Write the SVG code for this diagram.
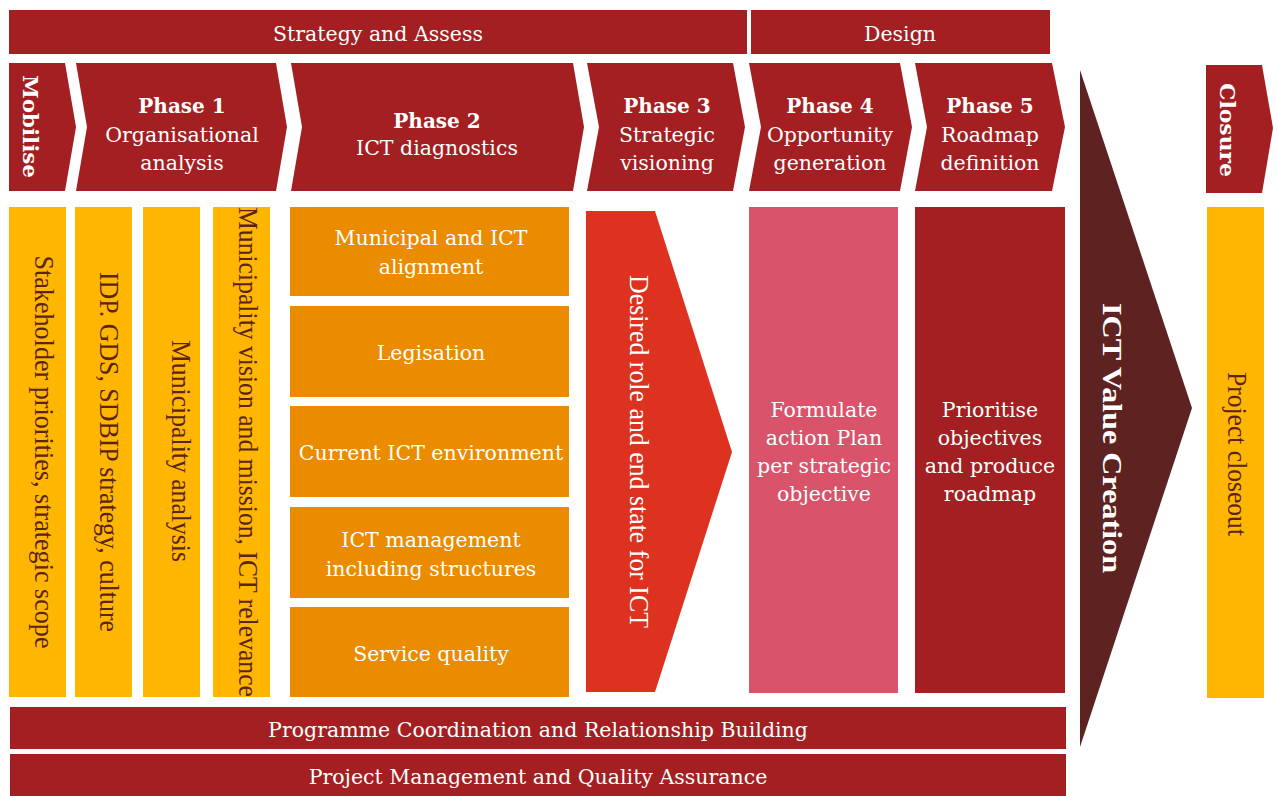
<svg xmlns="http://www.w3.org/2000/svg" width="1278" height="796" viewBox="0 0 1278 796">
<style>
.dr{fill:#a31f21}
.yl{fill:#ffb600}
.or{fill:#eb8c00}
.rd{fill:#dc321f}
.ro{fill:#d9536b}
.bg{fill:#5e2320}
.t{font-family:"DejaVu Serif","Liberation Serif",serif;font-size:20.5px;fill:#fff;text-anchor:middle}
.b{font-weight:bold;font-size:20px}
.v{font-family:"Liberation Serif",serif;font-size:27px;text-anchor:middle}
.vd{fill:#5a2418}
.vw{fill:#fff}
</style>
<rect width="1278" height="796" fill="#fff"/>

<g id="bar-strategy">
<rect class="dr" x="9" y="10" width="738" height="44"/>
<text class="t" x="378" y="41" font-size="20">Strategy and Assess</text>
</g>
<g id="bar-design">
<rect class="dr" x="751" y="10" width="299" height="44"/>
<text class="t" x="900" y="41" font-size="20">Design</text>
</g>

<g id="chev-mobilise">
<polygon class="dr" points="9,63 65,63 76,127 65,191 9,191"/>
<text class="t b" transform="translate(23,126.5) rotate(90)" x="0" y="0" textLength="103" lengthAdjust="spacingAndGlyphs">Mobilise</text>
</g>
<g id="chev-phase1">
<polygon class="dr" points="76,63 276,63 287,127 276,191 76,191 87,127"/>
<text class="t b" x="182" y="113">Phase 1</text>
<text class="t" x="182" y="142">Organisational</text>
<text class="t" x="182" y="170">analysis</text>
</g>
<g id="chev-phase2">
<polygon class="dr" points="291,63 573,63 584,127 573,191 291,191 302,127"/>
<text class="t b" x="437" y="128">Phase 2</text>
<text class="t" x="437" y="155">ICT diagnostics</text>
</g>
<g id="chev-phase3">
<polygon class="dr" points="587,63 733,63 745,127 733,191 587,191 599,127"/>
<text class="t b" x="667" y="113">Phase 3</text>
<text class="t" x="667" y="142">Strategic</text>
<text class="t" x="667" y="170">visioning</text>
</g>
<g id="chev-phase4">
<polygon class="dr" points="749,63 900,63 912,127 900,191 749,191 761,127"/>
<text class="t b" x="830" y="113">Phase 4</text>
<text class="t" x="830" y="142">Opportunity</text>
<text class="t" x="830" y="170">generation</text>
</g>
<g id="chev-phase5">
<polygon class="dr" points="915,63 1052,63 1065,127 1052,191 915,191 927,127"/>
<text class="t b" x="990" y="113">Phase 5</text>
<text class="t" x="990" y="142">Roadmap</text>
<text class="t" x="990" y="170">definition</text>
</g>
<g id="chev-closure">
<polygon class="dr" points="1206,65 1262,65 1273,128 1262,193 1206,193"/>
<text class="t b" transform="translate(1220,130) rotate(90)" x="0" y="0" textLength="94" lengthAdjust="spacingAndGlyphs">Closure</text>
</g>

<g id="col-stakeholder">
<rect class="yl" x="9" y="207" width="57" height="490"/>
<text class="v vd" transform="translate(34.5,452) rotate(90)" x="0" y="0" textLength="393" lengthAdjust="spacingAndGlyphs">Stakeholder priorities, strategic scope</text>
</g>
<g id="col-idp">
<rect class="yl" x="75" y="207" width="57" height="490"/>
<text class="v vd" transform="translate(99.5,452) rotate(90)" x="0" y="0" textLength="360" lengthAdjust="spacingAndGlyphs">IDP. GDS, SDBIP strategy, culture</text>
</g>
<g id="col-analysis">
<rect class="yl" x="143" y="207" width="57" height="490"/>
<text class="v vd" transform="translate(171.5,451) rotate(90)" x="0" y="0" textLength="222" lengthAdjust="spacingAndGlyphs">Municipality analysis</text>
</g>
<g id="col-vision">
<rect class="yl" x="213" y="207" width="57" height="490"/>
<text class="v vd" transform="translate(238.5,452) rotate(90)" x="0" y="0" textLength="490" lengthAdjust="spacingAndGlyphs">Municipality vision and mission, ICT relevance</text>
</g>

<g id="box-alignment">
<rect class="or" x="290" y="207" width="279" height="89"/>
<text class="t" x="431" y="245">Municipal and ICT</text>
<text class="t" x="431" y="274">alignment</text>
</g>
<g id="box-legislation">
<rect class="or" x="290" y="306" width="279" height="91"/>
<text class="t" x="431" y="360">Legisation</text>
</g>
<g id="box-environment">
<rect class="or" x="290" y="406" width="279" height="91"/>
<text class="t" x="431" y="460">Current ICT environment</text>
</g>
<g id="box-management">
<rect class="or" x="290" y="507" width="279" height="91"/>
<text class="t" x="431" y="547">ICT management</text>
<text class="t" x="431" y="576">including structures</text>
</g>
<g id="box-service">
<rect class="or" x="290" y="607" width="279" height="90"/>
<text class="t" x="431" y="661">Service quality</text>
</g>

<g id="arrow-desired">
<polygon class="rd" points="586,211 655,211 732,452 655,692 586,692"/>
<text class="v vw" transform="translate(630,451.5) rotate(90)" x="0" y="0" textLength="353" lengthAdjust="spacingAndGlyphs">Desired role and end state for ICT</text>
</g>

<g id="box-formulate">
<rect class="ro" x="749" y="207" width="149" height="486"/>
<text class="t" x="824" y="417">Formulate</text>
<text class="t" x="824" y="445">action Plan</text>
<text class="t" x="824" y="473">per strategic</text>
<text class="t" x="824" y="501">objective</text>
</g>
<g id="box-prioritise">
<rect class="dr" x="915" y="207" width="150" height="486"/>
<text class="t" x="990" y="417">Prioritise</text>
<text class="t" x="990" y="445">objectives</text>
<text class="t" x="990" y="473">and produce</text>
<text class="t" x="990" y="501">roadmap</text>
</g>

<g id="arrow-value">
<polygon class="bg" points="1080,70 1192,408 1080,747"/>
<text class="v vw" font-weight="bold" font-size="29" transform="translate(1103,438) rotate(90)" x="0" y="0" textLength="270" lengthAdjust="spacingAndGlyphs">ICT Value Creation</text>
</g>

<g id="col-closeout">
<rect class="yl" x="1207" y="207" width="57" height="491"/>
<text class="v vd" transform="translate(1228,454) rotate(90)" x="0" y="0" textLength="164" lengthAdjust="spacingAndGlyphs">Project closeout</text>
</g>

<g id="bar-programme">
<rect class="dr" x="10" y="707" width="1056" height="42"/>
<text class="t" x="538" y="737" font-size="20">Programme Coordination and Relationship Building</text>
</g>
<g id="bar-project">
<rect class="dr" x="10" y="754" width="1056" height="42"/>
<text class="t" x="538" y="784" font-size="20">Project Management and Quality Assurance</text>
</g>

<g id="connectors"></g>
</svg>
